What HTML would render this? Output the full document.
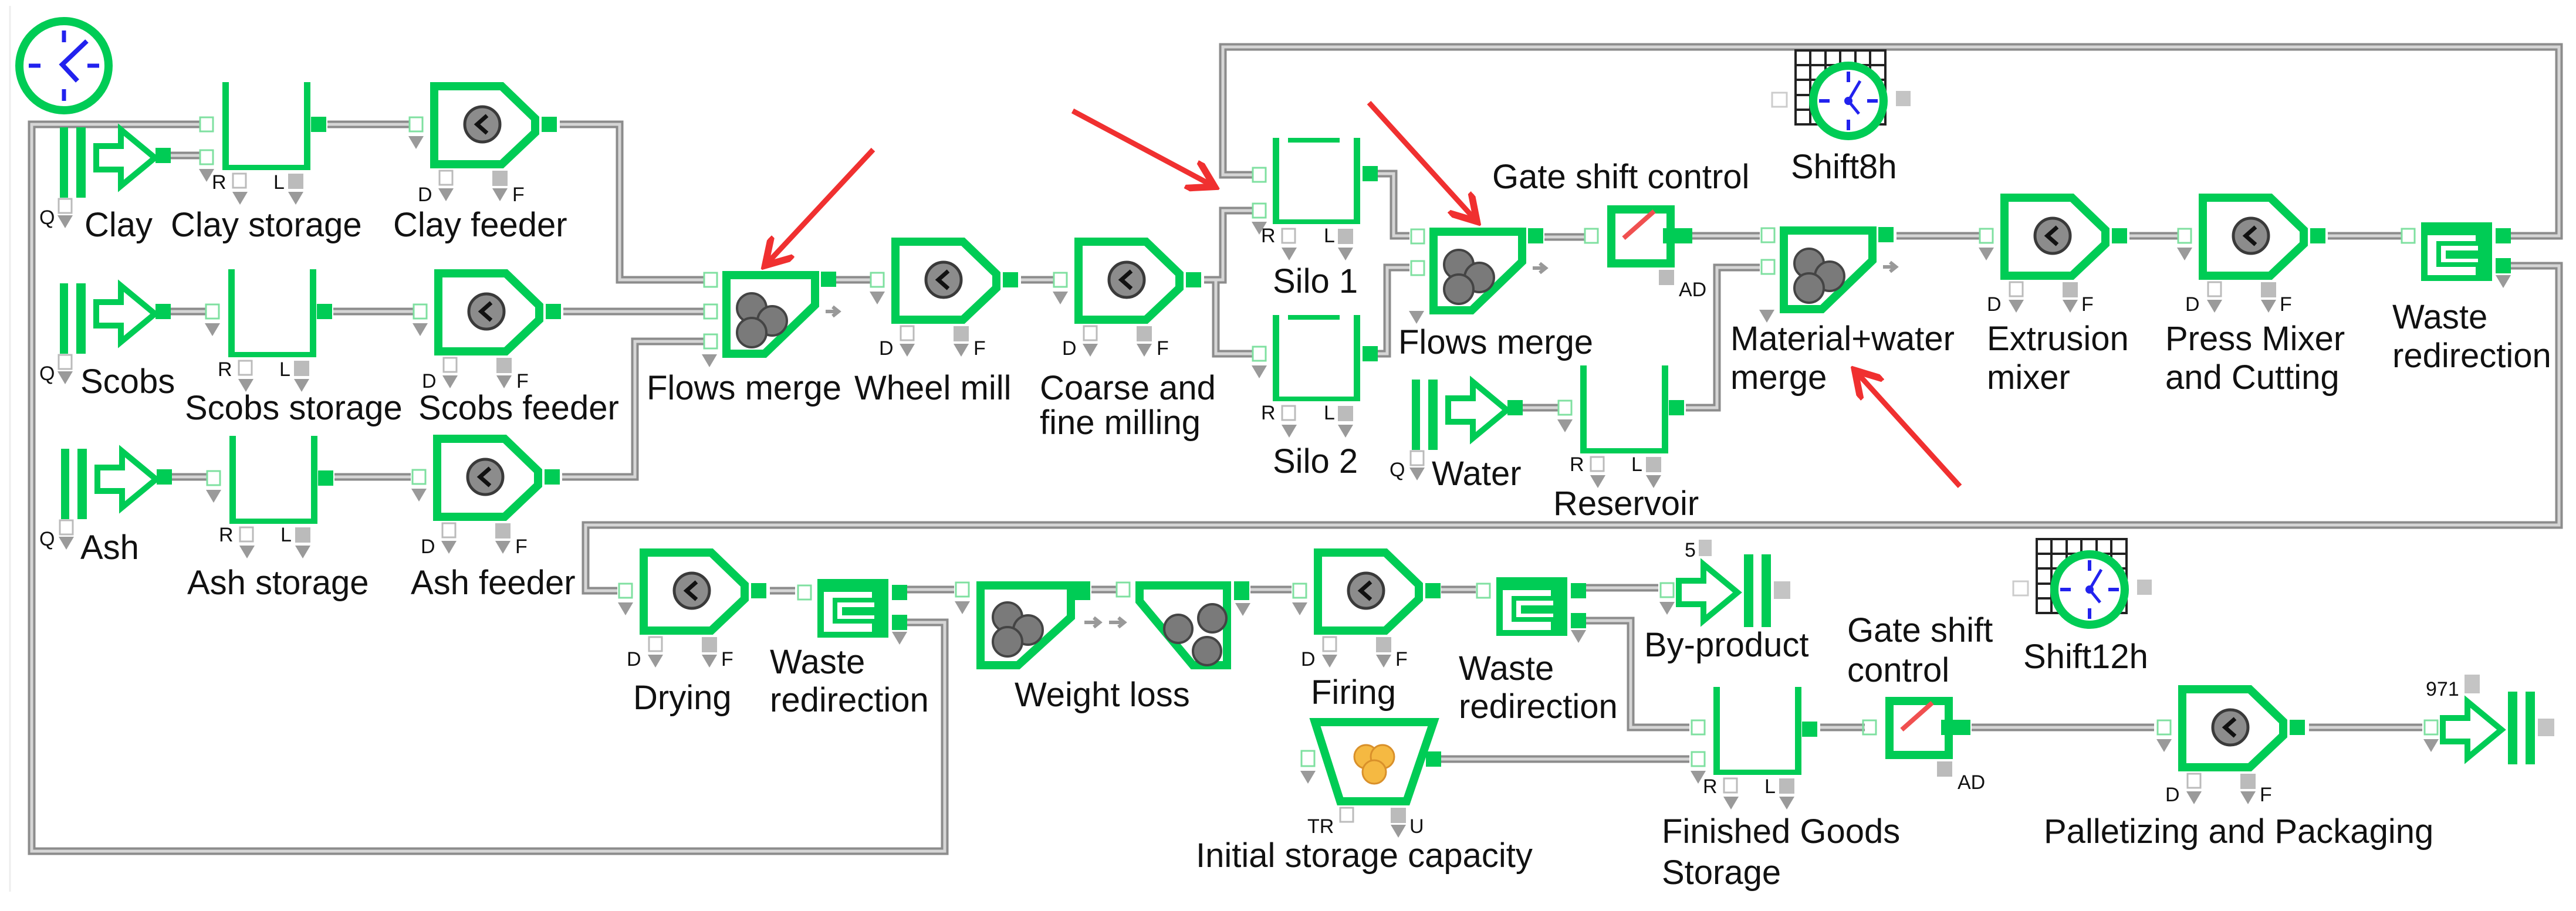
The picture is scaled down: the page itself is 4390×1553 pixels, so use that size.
<!DOCTYPE html>
<html><head><meta charset="utf-8"><style>
html,body{margin:0;padding:0;background:#fff}
svg{display:block}
text{font-family:"Liberation Sans",sans-serif;fill:#111}
.L{font-size:58px}
.s{font-size:34px;fill:#333}
.co{fill:none;stroke:#8c8c8c;stroke-width:13}
.ci{fill:none;stroke:#d6d6d6;stroke-width:5}
</style></head><body>
<svg width="4390" height="1553" viewBox="0 0 4390 1553" xmlns="http://www.w3.org/2000/svg">
<defs>
<g id="conns">
<path d="M1540,1061H1610V1451H54V212H340"/>
<path d="M289,265H340"/>
<path d="M558,212H698"/>
<path d="M954,212H1056V477H1200"/>
<path d="M289,531H352"/>
<path d="M568,531H705"/>
<path d="M960,531H1200"/>
<path d="M280,813H354"/>
<path d="M570,813H700"/>
<path d="M958,813H1082V582H1200"/>
<path d="M1424,477H1484"/>
<path d="M1740,477H1796"/>
<path d="M2052,477H2084V359H2134"/>
<path d="M2072,477V603H2134"/>
<path d="M4278,402H4361V80H2084V298H2134"/>
<path d="M2348,296H2375V402H2402"/>
<path d="M2348,603H2364V456H2402"/>
<path d="M2632,404H2700"/>
<path d="M2884,402H2999"/>
<path d="M2593,695H2655"/>
<path d="M2873,695H2926V456H2999"/>
<path d="M3232,402H3375"/>
<path d="M3629,402H3712"/>
<path d="M3967,402H4092"/>
<path d="M4278,453H4361V895H998V1007H1052"/>
<path d="M1312,1007H1355"/>
<path d="M1540,1005H1626"/>
<path d="M1860,1005H1903"/>
<path d="M2131,1005H2201"/>
<path d="M2456,1005H2515"/>
<path d="M2697,1002H2826"/>
<path d="M2697,1058H2779V1240H2879"/>
<path d="M2455,1294H2879"/>
<path d="M3102,1240H3178"/>
<path d="M3360,1240H3671"/>
<path d="M3935,1240H4128"/>
</g>
<g id="pin"><rect x="-11" y="-12" width="22" height="24" fill="none" stroke="#7fe0a0" stroke-width="3"/></g>
<g id="tri"><path d="M-13,0H13L0,22Z" fill="#9a9a9a"/></g>
<g id="pout"><rect x="-13" y="-13" width="26" height="26" fill="#00cc55"/></g>
<g id="wsq"><rect x="0" y="0" width="22" height="24" fill="#fff" stroke="#bbb" stroke-width="3"/></g>
<g id="gsq"><rect x="0" y="0" width="26" height="26" fill="#bbb"/></g>
<g id="fd">
<path d="M7,7H122L179,62V86L122,140H7Z" fill="#fff" stroke="#00cc55" stroke-width="14"/>
<circle cx="89" cy="72" r="30" fill="#8c8c8c" stroke="#3a3a3a" stroke-width="5"/>
<path d="M97,57L80,72L97,87" fill="none" stroke="#111" stroke-width="7"/>
<use href="#pin" x="-24" y="72"/><use href="#tri" x="-24" y="92"/>
<use href="#pout" x="203" y="72"/>
<use href="#wsq" x="16" y="151"/><use href="#tri" x="27" y="181"/>
<use href="#gsq" x="106" y="151"/><use href="#tri" x="119" y="181"/>
</g>
<g id="st">
<rect x="0" y="0" width="11" height="150" fill="#00cc55"/>
<rect x="139" y="0" width="11" height="150" fill="#00cc55"/>
<rect x="0" y="141" width="150" height="9" fill="#00cc55"/>
<use href="#pout" x="164" y="72"/>
<use href="#wsq" x="18" y="156"/><use href="#tri" x="30" y="187"/>
<use href="#gsq" x="112" y="156"/><use href="#tri" x="125" y="187"/>
</g>
<g id="si">
<rect x="0" y="0" width="11" height="147" fill="#00cc55"/>
<rect x="138" y="0" width="11" height="147" fill="#00cc55"/>
<rect x="0" y="139" width="149" height="8" fill="#00cc55"/>
<rect x="26" y="0" width="88" height="8" fill="#00cc55"/>
<use href="#wsq" x="16" y="155"/><use href="#tri" x="28" y="187"/>
<use href="#gsq" x="111" y="155"/><use href="#tri" x="124" y="187"/>
</g>
<g id="balls">
<circle cx="0" cy="0" r="25" fill="#7a7a7a" stroke="#444" stroke-width="4"/>
<circle cx="35" cy="22" r="25" fill="#7a7a7a" stroke="#444" stroke-width="4"/>
<circle cx="0" cy="42" r="25" fill="#7a7a7a" stroke="#444" stroke-width="4"/>
</g>
<g id="fm">
<path d="M7,7H158V58L72,141H7Z" fill="#fff" stroke="#00cc55" stroke-width="14"/>
<use href="#balls" x="50" y="63"/>
<use href="#pin" x="-20" y="15"/><use href="#pin" x="-20" y="69"/><use href="#tri" x="-22" y="142"/>
<use href="#pout" x="181" y="14"/>
<path d="M176,69H196M188,61L198,69L188,77" fill="none" stroke="#999" stroke-width="6"/>
</g>
<g id="src">
<rect x="0" y="-48" width="14" height="120" fill="#00cc55"/>
<rect x="28" y="-48" width="16" height="120" fill="#00cc55"/>
<path d="M62,-16H104V-44L162,4L104,52V24H62Z" fill="#fff" stroke="#00cc55" stroke-width="10"/>
<use href="#pout" x="176" y="0"/>
<use href="#wsq" x="-2" y="74"/><use href="#tri" x="9" y="102"/>
</g>
<g id="snk">
<path d="M0,-16H42V-44L100,4L42,52V24H0Z" fill="#fff" stroke="#00cc55" stroke-width="10"/>
<rect x="111" y="-61" width="16" height="124" fill="#00cc55"/>
<rect x="141" y="-61" width="16" height="124" fill="#00cc55"/>
<rect x="162" y="-15" width="28" height="30" fill="#c4c4c4"/>
<use href="#pin" x="-20" y="0"/><use href="#tri" x="-20" y="20"/>
</g>
<g id="wr">
<rect x="0" y="0" width="121" height="100" fill="#00cc55"/>
<rect x="11" y="18" width="86" height="72" fill="#fff"/>
<path d="M11,18H97V36H30V72H97V90" fill="none" stroke="#00cc55" stroke-width="8"/>
<path d="M42,48H97V62H42Z" fill="#00cc55"/>
<use href="#pin" x="-22" y="23"/>
<use href="#pout" x="140" y="23"/><use href="#pout" x="140" y="74"/>
<use href="#tri" x="140" y="90"/>
</g>
<g id="gt">
<rect x="7" y="7" width="101" height="92" fill="#fff" stroke="#00cc55" stroke-width="14"/>
<path d="M28,56L80,10" stroke="#f05050" stroke-width="8"/>
<use href="#pin" x="-27" y="52"/>
<rect x="95" y="39" width="50" height="26" fill="#00cc55"/>
<use href="#gsq" x="88" y="110"/>
</g>
<g id="sh">
<g stroke="#222" stroke-width="4" fill="none">
<rect x="0" y="0" width="153" height="126"/>
<path d="M25,0V126M51,0V126M76,0V126M102,0V126M127,0V126M0,25H153M0,50H153M0,76H153M0,101H153"/>
</g>
<circle cx="90" cy="86" r="60" fill="#fff" stroke="#00cc55" stroke-width="14"/>
<path d="M90,36V54M90,118V136M40,86H58M122,86H140" stroke="#2222ee" stroke-width="6"/>
<path d="M110,52L90,86L108,108" fill="none" stroke="#2222ee" stroke-width="5"/>
<circle cx="90" cy="86" r="7" fill="#2222ee"/>
<rect x="-40" y="72" width="25" height="24" fill="#fff" stroke="#ccc" stroke-width="3"/>
<rect x="171" y="69" width="25" height="26" fill="#c4c4c4"/>
</g>
<marker id="ah" markerWidth="6" markerHeight="6" refX="4" refY="3" orient="auto" markerUnits="strokeWidth"><path d="M0,0L5,3L0,6" fill="none" stroke="#f03030" stroke-width="1.3"/></marker>
</defs>

<line x1="17" y1="10" x2="17" y2="1520" stroke="#eee" stroke-width="3"/>
<use href="#conns" class="co"/>
<use href="#conns" class="ci"/>

<!-- main clock -->
<circle cx="109" cy="112" r="76" fill="#fff" stroke="#00cc55" stroke-width="14"/>
<path d="M109,52V72M109,152V172M49,112H69M149,112H169" stroke="#2222ee" stroke-width="7"/>
<path d="M148,70L106,110L132,138" fill="none" stroke="#2222ee" stroke-width="8"/>

<!-- row sources -->
<use href="#src" x="102" y="265"/>
<use href="#src" x="102" y="531"/>
<use href="#src" x="104" y="813"/>
<use href="#src" x="2406" y="695"/>

<use href="#st" x="379" y="140"/><use href="#pin" x="352" y="212"/><use href="#pin" x="352" y="268"/><use href="#tri" x="352" y="288"/>
<use href="#st" x="389" y="459"/><use href="#pin" x="362" y="531"/><use href="#tri" x="362" y="551"/>
<use href="#st" x="391" y="743"/><use href="#pin" x="364" y="815"/><use href="#tri" x="364" y="835"/>
<use href="#st" x="2693" y="623"/><use href="#pin" x="2667" y="695"/><use href="#tri" x="2667" y="715"/>
<use href="#st" x="2920" y="1171"/><use href="#pin" x="2894" y="1240"/><use href="#pin" x="2894" y="1294"/><use href="#tri" x="2894" y="1314"/>

<use href="#fd" x="733" y="140"/>
<use href="#fd" x="740" y="459"/>
<use href="#fd" x="738" y="741"/>
<use href="#fd" x="1519" y="405"/>
<use href="#fd" x="1831" y="405"/>
<use href="#fd" x="3409" y="330"/>
<use href="#fd" x="3747" y="330"/>
<use href="#fd" x="1090" y="935"/>
<use href="#fd" x="2239" y="935"/>
<use href="#fd" x="3712" y="1168"/>

<use href="#fm" x="1231" y="462"/><use href="#pin" x="1211" y="582"/>
<use href="#fm" x="2436" y="388"/>
<use href="#fm" x="3033" y="386"/>

<use href="#si" x="2169" y="235"/><use href="#pin" x="2146" y="298"/><use href="#pin" x="2146" y="359"/><use href="#tri" x="2146" y="378"/><use href="#pout" x="2335" y="296"/>
<use href="#si" x="2169" y="537"/><use href="#pin" x="2146" y="603"/><use href="#tri" x="2146" y="623"/><use href="#pout" x="2335" y="603"/>

<use href="#gt" x="2739" y="350"/>
<use href="#gt" x="3213" y="1188"/>

<use href="#sh" x="3060" y="86"/>
<use href="#sh" x="3471" y="919"/>

<use href="#wr" x="4126" y="379"/>
<use href="#wr" x="1393" y="987"/>
<use href="#wr" x="2550" y="984"/>

<!-- weight loss -->
<path d="M1671,998H1825V1052L1735,1134H1671Z" fill="#fff" stroke="#00cc55" stroke-width="14"/>
<use href="#balls" x="1717" y="1052"/>
<use href="#pin" x="1640" y="1005"/><use href="#tri" x="1640" y="1025"/>
<rect x="1832" y="991" width="26" height="32" fill="#00cc55"/>
<path d="M1848,1061H1872M1864,1053L1874,1061L1864,1069" fill="none" stroke="#999" stroke-width="6"/>
<path d="M1942,998H2091V1134H2033L1942,1025Z" fill="#fff" stroke="#00cc55" stroke-width="14"/>
<circle cx="2066" cy="1054" r="24" fill="#7a7a7a" stroke="#444" stroke-width="4"/>
<circle cx="2008" cy="1072" r="24" fill="#7a7a7a" stroke="#444" stroke-width="4"/>
<circle cx="2057" cy="1110" r="24" fill="#7a7a7a" stroke="#444" stroke-width="4"/>
<use href="#pin" x="1914" y="1005"/>
<path d="M1890,1061H1915M1906,1053L1916,1061L1906,1069" fill="none" stroke="#999" stroke-width="6"/>
<rect x="2103" y="991" width="26" height="32" fill="#00cc55"/><use href="#tri" x="2118" y="1028"/>

<!-- initial storage -->
<path d="M2241,1231H2443L2397,1366H2284Z" fill="#fff" stroke="#00cc55" stroke-width="14"/>
<circle cx="2328" cy="1290" r="20" fill="#f5b942" stroke="#d9902a" stroke-width="3"/>
<circle cx="2356" cy="1290" r="20" fill="#f5b942" stroke="#d9902a" stroke-width="3"/>
<circle cx="2342" cy="1316" r="20" fill="#f5b942" stroke="#d9902a" stroke-width="3"/>
<use href="#pout" x="2443" y="1294"/>
<rect x="2218" y="1280" width="22" height="26" fill="#fff" stroke="#7fe0a0" stroke-width="3"/><use href="#tri" x="2229" y="1314"/>
<use href="#wsq" x="2284" y="1377"/><use href="#gsq" x="2370" y="1377"/><use href="#tri" x="2383" y="1406"/>

<use href="#snk" x="2861" y="1006"/>
<rect x="2895" y="920" width="22" height="28" fill="#c4c4c4"/>
<use href="#snk" x="4163" y="1240"/>
<rect x="4200" y="1150" width="26" height="32" fill="#c4c4c4"/>

<!-- red arrows -->
<g stroke="#f03030" stroke-width="9" marker-end="url(#ah)">
<line x1="1488" y1="255" x2="1310" y2="446"/>
<line x1="1828" y1="189" x2="2062" y2="314"/>
<line x1="2333" y1="175" x2="2511" y2="371"/>
<line x1="3340" y1="829" x2="3167" y2="638"/>
</g>

<!-- small labels -->
<g class="s">
<text x="67" y="382">Q</text><text x="67" y="648">Q</text><text x="67" y="930">Q</text><text x="2368" y="812">Q</text>
<text x="361" y="322">R</text><text x="466" y="322">L</text>
<text x="371" y="641">R</text><text x="476" y="641">L</text>
<text x="373" y="923">R</text><text x="478" y="923">L</text>
<text x="2149" y="413">R</text><text x="2256" y="413">L</text>
<text x="2149" y="715">R</text><text x="2256" y="715">L</text>
<text x="2675" y="803">R</text><text x="2780" y="803">L</text>
<text x="2902" y="1352">R</text><text x="3007" y="1352">L</text>
<text x="712" y="343">D</text><text x="873" y="343">F</text>
<text x="719" y="661">D</text><text x="880" y="661">F</text>
<text x="717" y="943">D</text><text x="878" y="943">F</text>
<text x="1498" y="605">D</text><text x="1659" y="605">F</text>
<text x="1810" y="605">D</text><text x="1971" y="605">F</text>
<text x="3386" y="530">D</text><text x="3547" y="530">F</text>
<text x="3724" y="530">D</text><text x="3885" y="530">F</text>
<text x="1068" y="1135">D</text><text x="1229" y="1135">F</text>
<text x="2217" y="1135">D</text><text x="2378" y="1135">F</text>
<text x="3690" y="1366">D</text><text x="3851" y="1366">F</text>
<text x="2861" y="505">AD</text><text x="3336" y="1345">AD</text>
<text x="2228" y="1420">TR</text><text x="2402" y="1420">U</text>
<text x="2871" y="949">5</text><text x="4134" y="1186">971</text>
</g>

<!-- main labels -->
<g class="L">
<text x="144" y="403">Clay</text>
<text x="291" y="403">Clay storage</text>
<text x="670" y="403">Clay feeder</text>
<text x="137" y="670">Scobs</text>
<text x="315" y="715">Scobs storage</text>
<text x="713" y="715">Scobs feeder</text>
<text x="137" y="953">Ash</text>
<text x="319" y="1013">Ash storage</text>
<text x="700" y="1013">Ash feeder</text>
<text x="1102" y="681">Flows merge</text>
<text x="1456" y="681">Wheel mill</text>
<text x="1772" y="681">Coarse and</text>
<text x="1772" y="740">fine milling</text>
<text x="2169" y="499">Silo 1</text>
<text x="2169" y="806">Silo 2</text>
<text x="2383" y="603">Flows merge</text>
<text x="2543" y="321">Gate shift control</text>
<text x="3052" y="304">Shift8h</text>
<text x="2949" y="597">Material+water</text>
<text x="2949" y="663">merge</text>
<text x="2440" y="827">Water</text>
<text x="2647" y="878">Reservoir</text>
<text x="3386" y="597">Extrusion</text>
<text x="3386" y="663">mixer</text>
<text x="3690" y="597">Press Mixer</text>
<text x="3690" y="663">and Cutting</text>
<text x="4077" y="560">Waste</text>
<text x="4077" y="626">redirection</text>
<text x="1079" y="1209">Drying</text>
<text x="1312" y="1148">Waste</text>
<text x="1312" y="1213">redirection</text>
<text x="1729" y="1204">Weight loss</text>
<text x="2234" y="1200">Firing</text>
<text x="2038" y="1478">Initial storage capacity</text>
<text x="2486" y="1159">Waste</text>
<text x="2486" y="1224">redirection</text>
<text x="2802" y="1119">By-product</text>
<text x="3148" y="1094">Gate shift</text>
<text x="3148" y="1162">control</text>
<text x="3448" y="1139">Shift12h</text>
<text x="2832" y="1437">Finished Goods</text>
<text x="2832" y="1507">Storage</text>
<text x="3483" y="1437">Palletizing and Packaging</text>
</g>
</svg>
</body></html>
